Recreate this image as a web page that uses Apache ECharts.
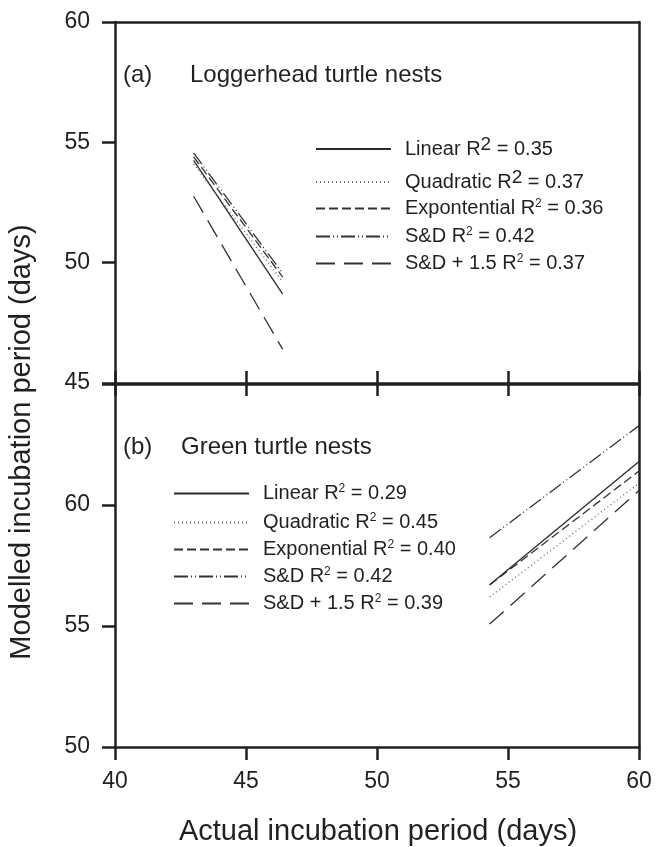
<!DOCTYPE html>
<html>
<head>
<meta charset="utf-8">
<script src="https://cdn.jsdelivr.net/npm/echarts@6/dist/echarts.min.js"></script>
<style>
html,body{margin:0;padding:0;background:#fff;}
#chart{width:656px;height:847px;}
</style>
</head>
<body>
<div id="chart"></div>
<script>
// ---- data ----
const xTicks = [40, 45, 50, 55, 60];
const panelATitle = ['(a)', 'Loggerhead turtle nests'];
const panelBTitle = ['(b)', 'Green turtle nests'];
const modelNames = ['Linear', 'Quadratic', 'Expontential', 'S&D', 'S&D + 1.5'];
const modelNamesB = ['Linear', 'Quadratic', 'Exponential', 'S&D', 'S&D + 1.5'];
const r2A = ['0.35', '0.37', '0.36', '0.42', '0.37'];
const r2B = ['0.29', '0.45', '0.40', '0.42', '0.39'];

// panel (a): loggerhead, x endpoints and modelled values
const aX = [43, 46.4];
const aLinear = [54.25, 48.69];
const aQuadratic = [54.1, 49.2];
const aExponential = [54.4, 49.4];
const aSD = [54.56, 49.56];
const aSD15 = [52.76, 46.4];

// panel (b): green turtle
const bX = [54.3, 60];
const bLinear = [56.7, 61.8];
const bQuadratic = [56.2, 60.9];
const bExponential = [56.7, 61.4];
const bSD = [58.65, 63.28];
const bSD15 = [55.08, 60.6];

const yTicksA = [45, 50, 55, 60];
const yTicksB = [50, 55, 60, 65];

// ---- styles ----
const AX = '#231f20';
const FONT = 'Liberation Sans, Arial, sans-serif';
const styles = [
  {type: 'solid', color: '#2a2a2a', width: 1.3},
  {type: [1, 3], color: '#666', width: 1.3},
  {type: [9, 4], color: '#333', width: 1.3},
  {type: [14, 3, 1, 3, 1, 3], color: '#333', width: 1.3},
  {type: [19, 9], color: '#333', width: 1.3}
];
const aSeriesVals = [aLinear, aQuadratic, aExponential, aSD, aSD15];
const bSeriesVals = [bLinear, bQuadratic, bExponential, bSD, bSD15];

function pair(xs, ys) { return xs.map((x, i) => [x, ys[i]]); }

const series = [];
aSeriesVals.forEach((v, i) => {
  series.push({
    name: 'a' + i, type: 'line', xAxisIndex: 0, yAxisIndex: 0,
    data: pair(aX, v), symbol: 'none', silent: true, animation: false,
    color: 'rgba(0,0,0,0)',
    itemStyle: {color: 'rgba(0,0,0,0)', borderWidth: 0},
    lineStyle: styles[i]
  });
});
bSeriesVals.forEach((v, i) => {
  series.push({
    name: 'b' + i, type: 'line', xAxisIndex: 2, yAxisIndex: 2,
    data: pair(bX, v), symbol: 'none', silent: true, animation: false,
    color: 'rgba(0,0,0,0)',
    itemStyle: {color: 'rgba(0,0,0,0)', borderWidth: 0},
    lineStyle: styles[i]
  });
});

const richBase = {
  gap: {width: 9, fontSize: 20},
  t: {fontSize: 20, fontFamily: FONT, color: '#231f20'},
  sup: {fontSize: 12, fontFamily: FONT, color: '#231f20', padding: [0, 0, 9, 0]},
  supBig: {fontSize: 19, fontFamily: FONT, color: '#231f20', padding: [0, 0, 9, 0]}
};

const legends = [];
const topRows = [142, 175, 205, 233, 260];
aSeriesVals.forEach((v, i) => {
  legends.push({
    data: ['a' + i], left: 310, top: topRows[i] - 12, itemWidth: 75, itemHeight: 14,
    selectedMode: false, itemStyle: {color: 'rgba(0,0,0,0)', borderWidth: 0},
    formatter: () => '{gap|}{t|' + modelNames[i] + ' R}' + (i < 2 ? '{supBig|2}' : '{sup|2}') + '{t| = ' + r2A[i] + '}',
    textStyle: {rich: richBase}
  });
});
const botRows = [490, 519, 546, 573, 600];
bSeriesVals.forEach((v, i) => {
  legends.push({
    data: ['b' + i], left: 168, top: botRows[i] - 12, itemWidth: 75, itemHeight: 14,
    selectedMode: false, itemStyle: {color: 'rgba(0,0,0,0)', borderWidth: 0},
    formatter: () => '{gap|}{t|' + modelNamesB[i] + ' R}{sup|2}{t| = ' + r2B[i] + '}',
    textStyle: {rich: richBase}
  });
});

const lineStyleAx = {color: AX, width: 2.5};
function xAx(grid, pos, showTick, showLabel) {
  return {
    type: 'value', gridIndex: grid, position: pos, min: xTicks[0], max: xTicks[xTicks.length - 1], interval: 5,
    axisLine: {show: true, onZero: false, lineStyle: lineStyleAx},
    axisTick: {show: showTick, inside: false, length: 13, lineStyle: {color: AX, width: 2.5}},
    axisLabel: {show: showLabel, fontSize: 23, color: '#231f20', fontFamily: FONT, margin: 23},
    splitLine: {show: false}
  };
}
function yAx(grid, pos, ticks, showTick, hideTop) {
  return {
    type: 'value', gridIndex: grid, position: pos, min: ticks[0], max: ticks[ticks.length - 1], interval: 5,
    axisLine: {show: true, onZero: false, lineStyle: lineStyleAx},
    axisTick: {show: showTick, inside: false, length: 13, lineStyle: {color: AX, width: 2.5}},
    axisLabel: {show: showTick, fontSize: 23, color: '#231f20', fontFamily: FONT, margin: 25,
      formatter: (val) => (hideTop && val === ticks[ticks.length - 1]) ? '' : String(val)},
    splitLine: {show: false}
  };
}

const option = {
  animation: false,
  backgroundColor: '#fff',
  grid: [
    {left: 115, right: 17, top: 22, height: 361},
    {left: 115, right: 17, top: 384, height: 363}
  ],
  xAxis: [
    xAx(0, 'bottom', true, false),
    xAx(1, 'top', true, false),
    xAx(1, 'bottom', true, true),
    xAx(0, 'top', false, false)
  ],
  yAxis: [
    yAx(0, 'left', yTicksA, true, false),
    yAx(0, 'right', yTicksA, false, false),
    yAx(1, 'left', yTicksB, true, true),
    yAx(1, 'right', yTicksB, false, false)
  ],
  legend: legends,
  series: series,
  graphic: [
    {type: 'text', left: 123, top: 63, style: {text: panelATitle[0], fontSize: 24, fontFamily: FONT, fill: '#231f20'}},
    {type: 'text', left: 190, top: 63, style: {text: panelATitle[1], fontSize: 24, fontFamily: FONT, fill: '#231f20'}},
    {type: 'text', left: 123, top: 435, style: {text: panelBTitle[0], fontSize: 24, fontFamily: FONT, fill: '#231f20'}},
    {type: 'text', left: 181, top: 435, style: {text: panelBTitle[1], fontSize: 24, fontFamily: FONT, fill: '#231f20'}},
    {type: 'text', x: 378, y: 832, style: {text: 'Actual incubation period (days)', fontSize: 29, fontFamily: FONT, fill: '#231f20', align: 'center', verticalAlign: 'middle'}},
    {type: 'text', x: 22, y: 442, rotation: Math.PI / 2, style: {text: 'Modelled incubation period (days)', fontSize: 29, fontFamily: FONT, fill: '#231f20', align: 'center', verticalAlign: 'middle'}}
  ]
};

const chart = echarts.init(document.getElementById('chart'), null, {renderer: 'canvas'});
chart.setOption(option);
</script>
</body>
</html>
